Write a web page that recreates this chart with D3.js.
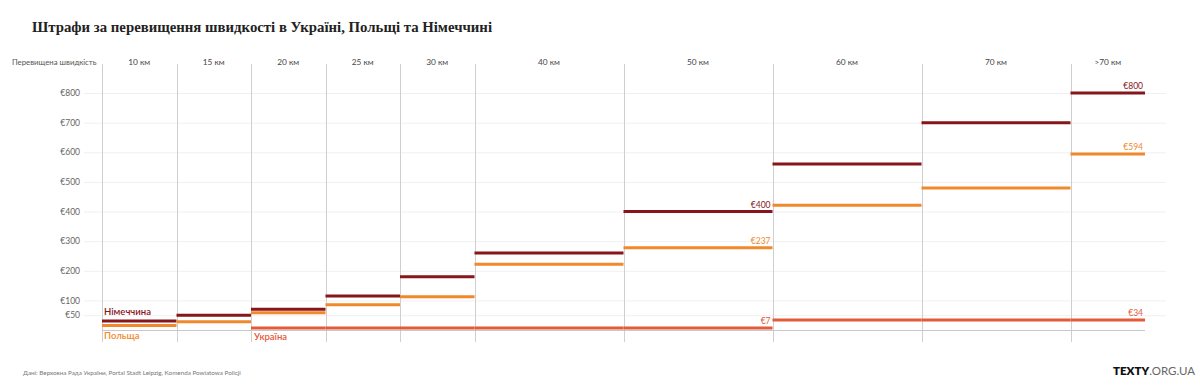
<!DOCTYPE html>
<html><head><meta charset="utf-8">
<script src="https://cdn.jsdelivr.net/npm/d3@7"></script>
<style>body{margin:0;background:#fff} svg{display:block}</style>
</head><body><svg id="c" width="1200" height="390"></svg>
<script>
// ---- data ----
const categories = ["10 км","15 км","20 км","25 км","30 км","40 км","50 км","60 км","70 км",">70 км"];
const kmFrom = [5,10,15,20,25,30,40,50,60,70];
const kmTo   = [10,15,20,25,30,40,50,60,70,75];
const germany = [30,50,70,115,180,260,400,560,700,800];
const poland  = [15,28,58,85,112,222,278,421,479,594];
const ukraine = [null,null,7,7,7,7,7,34,34,34];
const yTicks = [50,100,200,300,400,500,600,700,800];
const seriesNames = ["Німеччина","Польща","Україна"];
const valueLabels = [
  {s:2, col:6, text:"€7"},
  {s:0, col:6, text:"€400"},
  {s:1, col:6, text:"€237"},
  {s:0, col:9, text:"€800"},
  {s:1, col:9, text:"€594"},
  {s:2, col:9, text:"€34"}
];

const colors = ["#86161a","#f0892c","#e35a3b"];
const seriesVals = [germany, poland, ukraine];
const font = "Lato, 'Open Sans', sans-serif";

const svg = d3.select("#c");
const x = d3.scaleLinear().domain([5,75]).range([102,1145]);
const y = d3.scaleLinear().domain([0,800]).range([330,93]);

// title
svg.append("text").attr("x",32).attr("y",32)
  .attr("font-family","'Liberation Serif', 'DejaVu Serif', serif")
  .attr("font-weight","bold").attr("font-size",14.8).attr("fill","#222")
  .text("Штрафи за перевищення швидкості в Україні, Польщі та Німеччині");

// y axis with gridlines
const gAxis = svg.append("g").attr("transform","translate(84,0)")
  .call(d3.axisLeft(y).tickValues(yTicks).tickFormat(d=>"€"+d)
        .tickSize(-(1166-84)).tickPadding(4));
gAxis.select(".domain").remove();
gAxis.selectAll(".tick line").attr("stroke","#f0f0f0");
gAxis.selectAll(".tick text").attr("fill","#666").attr("font-size",8.5)
  .attr("font-family",font);

// header
svg.append("text").attr("x",12).attr("y",65).attr("font-family",font)
  .attr("font-size",7.8).attr("fill","#555").text("Перевищена швидкість");
svg.append("g").selectAll("text").data(categories).join("text")
  .attr("x",(d,i)=>x((kmFrom[i]+kmTo[i])/2)).attr("y",65)
  .attr("text-anchor","middle").attr("font-family",font)
  .attr("font-size",8.3).attr("fill","#444").text(d=>d);

// separators
svg.append("g").selectAll("line").data(kmFrom).join("line")
  .attr("x1",d=>Math.round(x(d))+0.5).attr("x2",d=>Math.round(x(d))+0.5)
  .attr("y1",64).attr("y2",342).attr("stroke","#cfcfcf").attr("stroke-width",1);

// baseline
svg.append("line").attr("x1",x(5)).attr("x2",x(75))
  .attr("y1",y(0)+0.5).attr("y2",y(0)+0.5).attr("stroke","#c8c8c8");

// step lines
seriesVals.forEach((vals,s)=>{
  svg.append("g").selectAll("line")
    .data(vals.map((v,i)=>({v,i})).filter(d=>d.v!=null))
    .join("line")
    .attr("x1",d=>x(kmFrom[d.i])).attr("x2",d=>x(kmTo[d.i]))
    .attr("y1",d=>y(d.v)).attr("y2",d=>y(d.v))
    .attr("stroke",colors[s]).attr("stroke-width",3);
});

// value labels
svg.append("g").selectAll("text").data(valueLabels).join("text")
  .attr("x",d=>x(kmTo[d.col])-2).attr("y",d=>y(seriesVals[d.s][d.col])-4)
  .attr("text-anchor","end").attr("font-family",font).attr("font-size",8.5)
  .attr("fill",d=>colors[d.s]).text(d=>d.text);

// series labels
svg.append("text").attr("x",104).attr("y",315).attr("font-family",font)
  .attr("font-size",9.5).attr("font-weight",600).attr("fill",colors[0]).text(seriesNames[0]);
svg.append("text").attr("x",104).attr("y",339).attr("font-family",font)
  .attr("font-size",9.5).attr("font-weight",600).attr("fill",colors[1]).text(seriesNames[1]);
svg.append("text").attr("x",x(15)+3).attr("y",340).attr("font-family",font)
  .attr("font-size",9.5).attr("font-weight",600).attr("fill",colors[2]).text(seriesNames[2]);

// footer
svg.append("text").attr("x",23).attr("y",375).attr("font-family",font)
  .attr("font-size",6.3).attr("fill","#777")
  .text("Дані: Верховна Рада України, Portal Stadt Leipzig, Komenda Powiatowa Policji");
const logo = svg.append("text").attr("x",1113).attr("y",375).attr("font-family",font)
  .attr("font-size",11.5);
logo.append("tspan").attr("font-weight",800).attr("fill","#111").text("TEXTY");
logo.append("tspan").attr("fill","#666").text(".ORG.UA");
</script></body></html>
